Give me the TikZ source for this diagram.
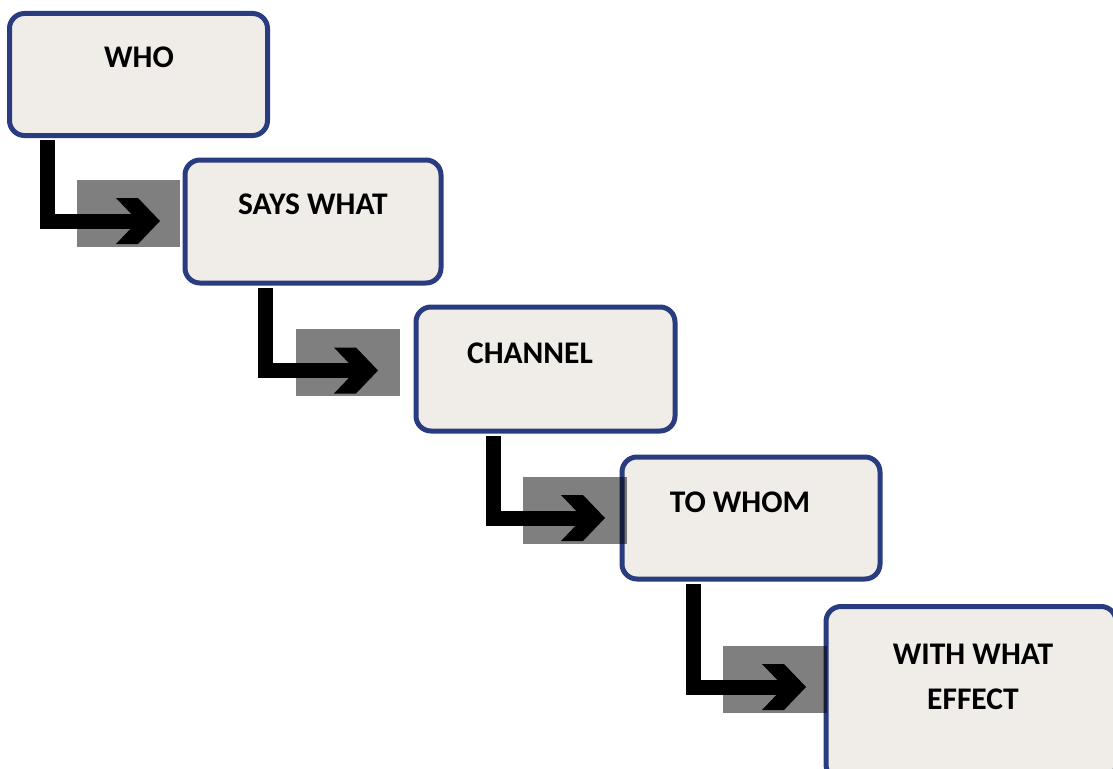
\documentclass[tikz,border=0pt]{standalone}
\usepackage{fontspec}
\setmainfont{Carlito}
\definecolor{boxfill}{HTML}{F0EDE9}
\definecolor{boxline}{HTML}{2A3C80}
\tikzset{
  box/.style={draw=boxline, fill=boxfill, line width=5pt, rounded corners=15pt, inner sep=0pt},
  title/.style={font=\fontsize{31.5}{45}\selectfont\bfseries, inner sep=0pt, align=center},
  shade/.style={fill=black, fill opacity=0.5},
  shaft/.style={draw=black, line width=15pt, line join=miter, line cap=butt},
  head/.style={fill=black},
}
\begin{document}
\begin{tikzpicture}[x=1pt,y=-1pt]
\clip (0,0) rectangle (1113,768);
\fill[white] (0,0) rectangle (1113,768);
% boxes
\node[box, minimum width=258pt, minimum height=122pt] (b1) at (138.5,74.5) {};
\node[box, minimum width=256pt, minimum height=123pt] (b2) at (313,221.5) {};
\node[box, minimum width=259pt, minimum height=124pt] (b3) at (545.5,369) {};
\node[box, minimum width=258pt, minimum height=122pt] (b4) at (751,518) {};
\node[box, minimum width=290pt, minimum height=173pt] (b5) at (971,693) {};
% titles
\node[title] (t1) at (139,57) {WHO};
\node[title] (t2) at (313,204) {SAYS WHAT};
\node[title] (t3) at (530,353) {CHANNEL};
\node[title] (t4) at (740,502) {TO WHOM};
\node[title] (t5) at (973,677) {WITH WHAT\\EFFECT};
% grey panels
\fill[shade] (77,180) rectangle (180,247);
\fill[shade] (296,329) rectangle (400,396);
\fill[shade] (523,477) rectangle (627,544);
\fill[shade] (723,646) rectangle (827,713);
% arrow corners and tips
\coordinate (c1) at (47,221);   \coordinate (p1) at (160,221);
\coordinate (c2) at (265.5,370.5); \coordinate (p2) at (378,370.5);
\coordinate (c3) at (493,518);  \coordinate (p3) at (605,518);
\coordinate (c4) at (693.5,687); \coordinate (p4) at (806,687);
\foreach \i/\b in {1/b1,2/b2,3/b3,4/b4}{
  \draw[shaft] ([yshift=-2pt]\b.south -| c\i) -- (c\i) -- ([xshift=-20pt]p\i);
  \fill[head] (p\i) -- ++(-22,-23) -- ++(-22,0) -- ++(22,23) -- ++(-22,23) -- ++(22,0) -- cycle;
}
\end{tikzpicture}
\end{document}
